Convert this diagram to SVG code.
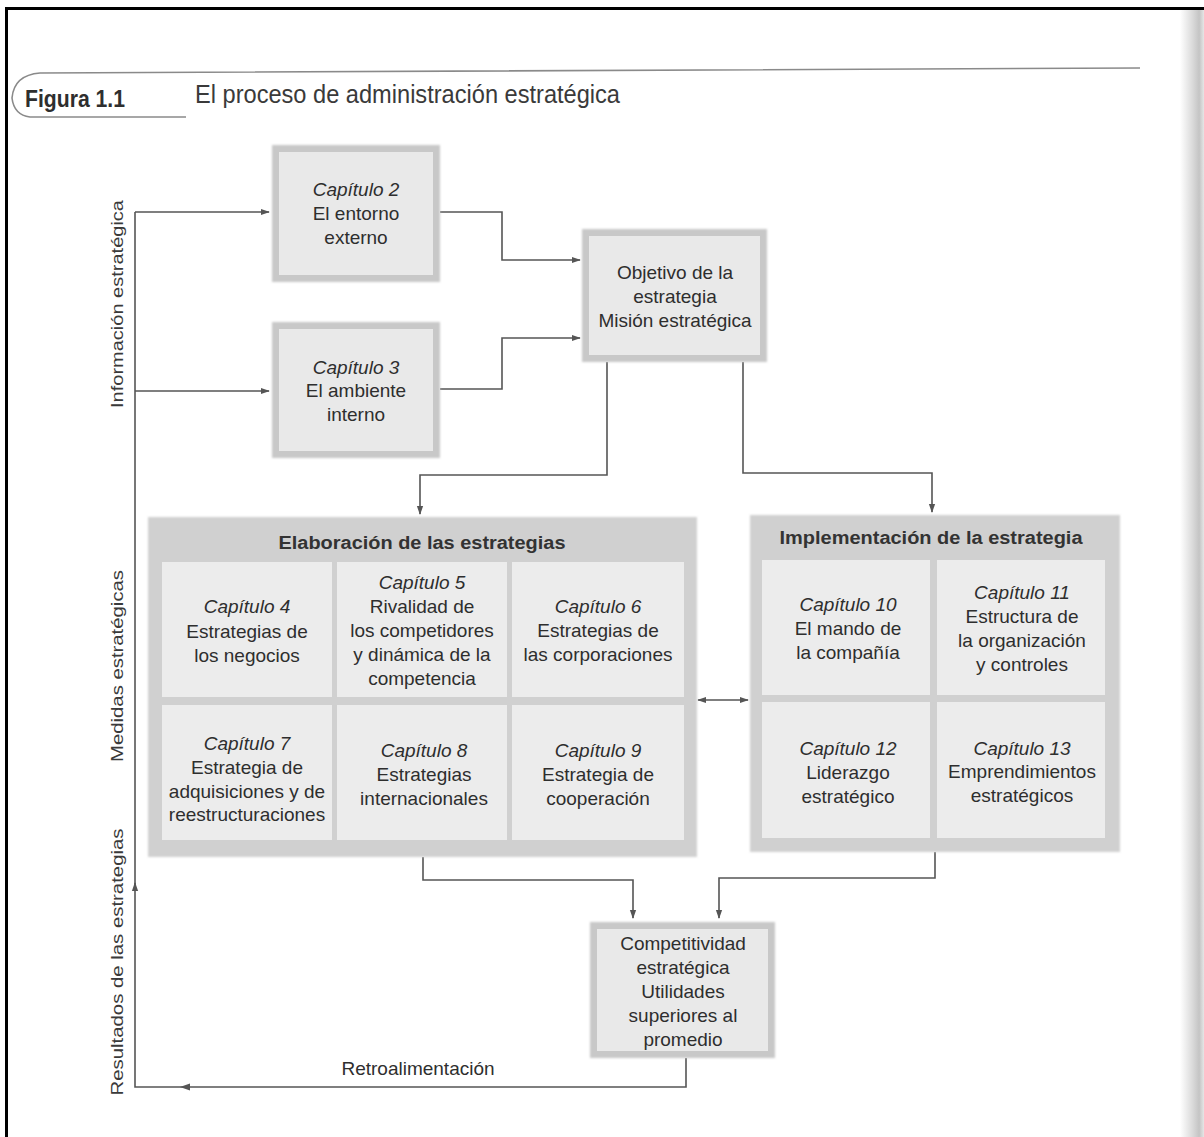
<svg xmlns="http://www.w3.org/2000/svg" width="1204" height="1137" viewBox="0 0 1204 1137">
  <defs>
    <style>
      .t { font-family: "Liberation Sans", Arial, sans-serif; font-size: 19px; fill: #2e2e2e; text-anchor: middle; }
      .i { font-style: italic; }
      .h { font-family: "Liberation Sans", Arial, sans-serif; font-size: 18px; font-weight: bold; fill: #333; text-anchor: middle; }
      .side { font-family: "Liberation Sans", Arial, sans-serif; font-size: 17px; fill: #3a3a3a; text-anchor: middle; }
      .frame { fill: #c8c8c8; }
      .fill { fill: #e9e9e9; }
      .cell { fill: #ececec; }
      .band { fill: #d0d0d0; }
      .wire { fill: none; stroke: #555; stroke-width: 1.6; }
    </style>
    <marker id="arr" viewBox="0 0 10 10" refX="9" refY="5" markerWidth="9" markerHeight="9" markerUnits="userSpaceOnUse" orient="auto-start-reverse">
      <path d="M0,1.5 L10,5 L0,8.5 Z" fill="#555"/>
    </marker>
    <linearGradient id="pageEdge" x1="0" y1="0" x2="1" y2="0">
      <stop offset="0" stop-color="#ffffff"/>
      <stop offset="0.55" stop-color="#d8d8d8"/>
      <stop offset="0.8" stop-color="#c4c4c4"/>
      <stop offset="1" stop-color="#e6e6e6"/>
    </linearGradient>
    <filter id="soft" x="-5%" y="-5%" width="110%" height="110%">
      <feGaussianBlur stdDeviation="1.2"/>
    </filter>
  </defs>

  <rect x="0" y="0" width="1204" height="1137" fill="#ffffff"/>
  <rect x="1180" y="10" width="24" height="1127" fill="url(#pageEdge)"/>

  <!-- page frame -->
  <line x1="5" y1="8.5" x2="1204" y2="8.5" stroke="#000" stroke-width="3"/>
  <line x1="6.5" y1="7" x2="6.5" y2="1137" stroke="#000" stroke-width="3"/>

  <!-- figure heading -->
  <g id="heading">
    <path d="M1140,68 L40,73 Q14,75 12,98 Q14,115 30,117 L186,117" fill="none" stroke="#8a8a8a" stroke-width="1.6"/>
    <text x="25" y="107" font-family="Liberation Sans, Arial, sans-serif" font-size="24" font-weight="bold" fill="#2e2e2e" textLength="100" lengthAdjust="spacingAndGlyphs">Figura 1.1</text>
    <text x="195" y="103" font-family="Liberation Sans, Arial, sans-serif" font-size="25" fill="#3a3a3a" textLength="425" lengthAdjust="spacingAndGlyphs">El proceso de administración estratégica</text>
  </g>

  <!-- side labels -->
  <text class="side" transform="translate(123,304) rotate(-90)" textLength="208" lengthAdjust="spacingAndGlyphs">Información estratégica</text>
  <text class="side" transform="translate(123,666) rotate(-90)" textLength="192" lengthAdjust="spacingAndGlyphs">Medidas estratégicas</text>
  <text class="side" transform="translate(123,962) rotate(-90)" textLength="267" lengthAdjust="spacingAndGlyphs">Resultados de las estrategias</text>

  <!-- connectors -->
  <g id="connectors">
    <polyline class="wire" points="135,888 135,212"/>
    <line class="wire" x1="135" y1="212" x2="269" y2="212" marker-end="url(#arr)"/>
    <line class="wire" x1="135" y1="391" x2="269" y2="391" marker-end="url(#arr)"/>
    <polyline class="wire" points="440,212 502,212 502,260 580,260" marker-end="url(#arr)"/>
    <polyline class="wire" points="440,389 502,389 502,338 580,338" marker-end="url(#arr)"/>
    <polyline class="wire" points="607,362 607,475 420,475 420,514" marker-end="url(#arr)"/>
    <polyline class="wire" points="743,362 743,473 932,473 932,512" marker-end="url(#arr)"/>
    <line class="wire" x1="698" y1="700" x2="748" y2="700" marker-start="url(#arr)" marker-end="url(#arr)"/>
    <polyline class="wire" points="423,857 423,880 633,880 633,918" marker-end="url(#arr)"/>
    <polyline class="wire" points="935,852 935,878 719,878 719,918" marker-end="url(#arr)"/>
    <polyline class="wire" points="686,1058 686,1087 135,1087 135,883" marker-end="url(#arr)"/>
    <path d="M190,1083.5 L180,1087 L190,1090.5 Z" fill="#555"/>
    <text class="t" x="418" y="1075">Retroalimentación</text>
  </g>

  <!-- Capítulo 2 -->
  <g id="cap2">
    <rect class="frame" x="272" y="145" width="168" height="137" filter="url(#soft)"/>
    <rect class="fill" x="279" y="152" width="154" height="123"/>
    <text class="t i" x="356" y="196">Capítulo 2</text>
    <text class="t" x="356" y="220">El entorno</text>
    <text class="t" x="356" y="244">externo</text>
  </g>

  <!-- Capítulo 3 -->
  <g id="cap3">
    <rect class="frame" x="272" y="322" width="168" height="136" filter="url(#soft)"/>
    <rect class="fill" x="279" y="329" width="154" height="122"/>
    <text class="t i" x="356" y="374">Capítulo 3</text>
    <text class="t" x="356" y="397">El ambiente</text>
    <text class="t" x="356" y="421">interno</text>
  </g>

  <!-- Objetivo / Misión -->
  <g id="objetivo">
    <rect class="frame" x="582" y="229" width="185" height="133" filter="url(#soft)"/>
    <rect class="fill" x="589" y="236" width="171" height="119"/>
    <text class="t" x="675" y="279">Objetivo de la</text>
    <text class="t" x="675" y="303">estrategia</text>
    <text class="t" x="675" y="327">Misión estratégica</text>
  </g>

  <!-- Elaboración de las estrategias -->
  <g id="elaboracion">
    <rect class="band" x="148" y="517" width="549" height="340" filter="url(#soft)"/>
    <text class="h" x="422" y="549" textLength="287" lengthAdjust="spacingAndGlyphs">Elaboración de las estrategias</text>
    <g id="cap4">
      <rect class="cell" x="162" y="562" width="170" height="135"/>
      <text class="t i" x="247" y="613">Capítulo  4</text>
      <text class="t" x="247" y="638">Estrategias de</text>
      <text class="t" x="247" y="662">los negocios</text>
    </g>
    <g id="cap5">
      <rect class="cell" x="337" y="562" width="170" height="135"/>
      <text class="t i" x="422" y="589">Capítulo 5</text>
      <text class="t" x="422" y="613">Rivalidad de</text>
      <text class="t" x="422" y="637">los competidores</text>
      <text class="t" x="422" y="661">y dinámica de la</text>
      <text class="t" x="422" y="685">competencia</text>
    </g>
    <g id="cap6">
      <rect class="cell" x="512" y="562" width="172" height="135"/>
      <text class="t i" x="598" y="613">Capítulo 6</text>
      <text class="t" x="598" y="637">Estrategias de</text>
      <text class="t" x="598" y="661">las corporaciones</text>
    </g>
    <g id="cap7">
      <rect class="cell" x="162" y="705" width="170" height="135"/>
      <text class="t i" x="247" y="750">Capítulo 7</text>
      <text class="t" x="247" y="774">Estrategia de</text>
      <text class="t" x="247" y="798">adquisiciones y de</text>
      <text class="t" x="247" y="821">reestructuraciones</text>
    </g>
    <g id="cap8">
      <rect class="cell" x="337" y="705" width="170" height="135"/>
      <text class="t i" x="424" y="757">Capítulo 8</text>
      <text class="t" x="424" y="781">Estrategias</text>
      <text class="t" x="424" y="805">internacionales</text>
    </g>
    <g id="cap9">
      <rect class="cell" x="512" y="705" width="172" height="135"/>
      <text class="t i" x="598" y="757">Capítulo 9</text>
      <text class="t" x="598" y="781">Estrategia de</text>
      <text class="t" x="598" y="805">cooperación</text>
    </g>
  </g>

  <!-- Implementación de la estrategia -->
  <g id="implementacion">
    <rect class="band" x="750" y="515" width="370" height="337" filter="url(#soft)"/>
    <text class="h" x="931" y="544" textLength="303" lengthAdjust="spacingAndGlyphs">Implementación de la estrategia</text>
    <g id="cap10">
      <rect class="cell" x="762" y="560" width="168" height="135"/>
      <text class="t i" x="848" y="611">Capítulo 10</text>
      <text class="t" x="848" y="635">El mando de</text>
      <text class="t" x="848" y="659">la compañía</text>
    </g>
    <g id="cap11">
      <rect class="cell" x="937" y="560" width="168" height="135"/>
      <text class="t i" x="1022" y="599">Capítulo 11</text>
      <text class="t" x="1022" y="623">Estructura de</text>
      <text class="t" x="1022" y="647">la organización</text>
      <text class="t" x="1022" y="671">y controles</text>
    </g>
    <g id="cap12">
      <rect class="cell" x="762" y="702" width="168" height="136"/>
      <text class="t i" x="848" y="755">Capítulo 12</text>
      <text class="t" x="848" y="779">Liderazgo</text>
      <text class="t" x="848" y="803">estratégico</text>
    </g>
    <g id="cap13">
      <rect class="cell" x="937" y="702" width="168" height="136"/>
      <text class="t i" x="1022" y="755">Capítulo 13</text>
      <text class="t" x="1022" y="778">Emprendimientos</text>
      <text class="t" x="1022" y="802">estratégicos</text>
    </g>
  </g>

  <!-- Competitividad estratégica -->
  <g id="competitividad">
    <rect class="frame" x="590" y="922" width="185" height="136" filter="url(#soft)"/>
    <rect class="fill" x="597" y="929" width="171" height="122"/>
    <text class="t" x="683" y="950">Competitividad</text>
    <text class="t" x="683" y="974">estratégica</text>
    <text class="t" x="683" y="998">Utilidades</text>
    <text class="t" x="683" y="1022">superiores al</text>
    <text class="t" x="683" y="1046">promedio</text>
  </g>
</svg>
